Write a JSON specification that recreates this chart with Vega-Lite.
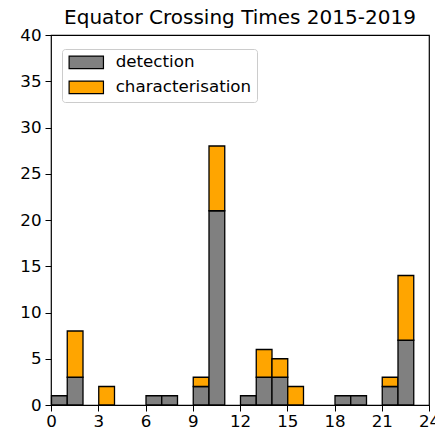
{
  "$schema": "https://vega.github.io/schema/vega-lite/v6.json",
  "autosize": {"type": "none"},
  "padding": {"left": 51, "top": 35, "right": 6, "bottom": 30},
  "width": 378,
  "height": 370,
  "background": "white",
  "title": {
    "text": "Equator Crossing Times 2015-2019",
    "font": "DejaVu Sans",
    "fontSize": 20,
    "fontWeight": "normal",
    "color": "black",
    "offset": -1
  },
  "data": {
    "values": [
      {"hour": 0, "series": "detection", "count": 1},
      {"hour": 1, "series": "detection", "count": 3},
      {"hour": 1, "series": "characterisation", "count": 5},
      {"hour": 3, "series": "characterisation", "count": 2},
      {"hour": 6, "series": "detection", "count": 1},
      {"hour": 7, "series": "detection", "count": 1},
      {"hour": 9, "series": "detection", "count": 2},
      {"hour": 9, "series": "characterisation", "count": 1},
      {"hour": 10, "series": "detection", "count": 21},
      {"hour": 10, "series": "characterisation", "count": 7},
      {"hour": 12, "series": "detection", "count": 1},
      {"hour": 13, "series": "detection", "count": 3},
      {"hour": 13, "series": "characterisation", "count": 3},
      {"hour": 14, "series": "detection", "count": 3},
      {"hour": 14, "series": "characterisation", "count": 2},
      {"hour": 15, "series": "characterisation", "count": 2},
      {"hour": 18, "series": "detection", "count": 1},
      {"hour": 19, "series": "detection", "count": 1},
      {"hour": 21, "series": "detection", "count": 2},
      {"hour": 21, "series": "characterisation", "count": 1},
      {"hour": 22, "series": "detection", "count": 7},
      {"hour": 22, "series": "characterisation", "count": 7}
    ]
  },
  "mark": {"type": "bar", "stroke": "black", "strokeWidth": 1.3, "binSpacing": 0},
  "encoding": {
    "x": {
      "field": "hour",
      "bin": {"extent": [0, 24], "step": 1},
      "type": "quantitative",
      "scale": {"domain": [0, 24], "nice": false},
      "axis": {
        "title": null,
        "values": [0, 3, 6, 9, 12, 15, 18, 21, 24],
        "format": "d",
        "grid": false,
        "domain": false,
        "tickColor": "black",
        "tickSize": 6,
        "labelFont": "DejaVu Sans",
        "labelFontSize": 16.7,
        "labelColor": "black",
        "labelPadding": 2,
        "labelFlush": false
      }
    },
    "y": {
      "aggregate": "sum",
      "field": "count",
      "type": "quantitative",
      "stack": "zero",
      "scale": {"domain": [0, 40], "nice": false},
      "axis": {
        "title": null,
        "values": [0, 5, 10, 15, 20, 25, 30, 35, 40],
        "grid": false,
        "domain": false,
        "tickColor": "black",
        "tickSize": 6,
        "labelFont": "DejaVu Sans",
        "labelFontSize": 16.7,
        "labelColor": "black",
        "labelPadding": 4,
        "labelFlush": false
      }
    },
    "color": {
      "field": "series",
      "type": "nominal",
      "scale": {"domain": ["detection", "characterisation"], "range": ["#808080", "#FFA500"]},
      "legend": {
        "title": null,
        "orient": "none",
        "legendX": 11,
        "legendY": 14,
        "fillColor": "white",
        "strokeColor": "#cccccc",
        "cornerRadius": 3,
        "padding": 5,
        "symbolType": "M-1,-1H4.5V1H-1Z",
        "symbolSize": 156,
        "symbolStrokeColor": "black",
        "symbolStrokeWidth": 1.2,
        "symbolOpacity": 1,
        "labelFont": "DejaVu Sans",
        "labelFontSize": 16.7,
        "labelColor": "black",
        "labelOffset": 32,
        "rowPadding": 6
      }
    },
    "order": {"field": "series", "sort": "descending"}
  },
  "config": {
    "view": {"stroke": "black", "strokeWidth": 1.2},
    "axis": {"tickWidth": 1}
  }
}
